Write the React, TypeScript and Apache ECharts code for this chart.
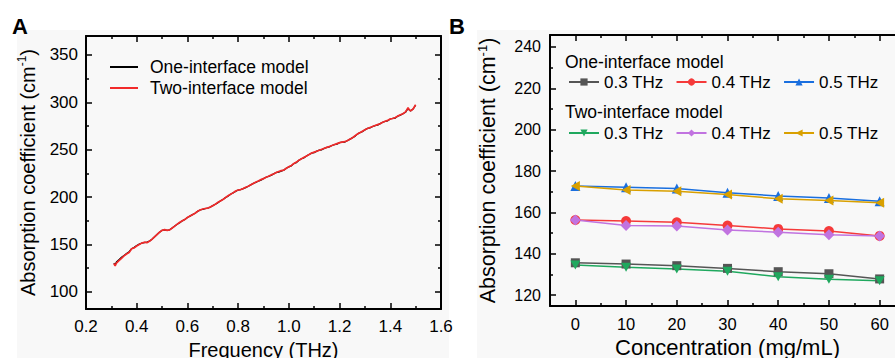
import React, { useEffect, useRef } from 'react';
import * as echarts from 'echarts';

const FONT = '"Liberation Sans", Arial, Helvetica, sans-serif';

// ---------- Panel A data ----------
const freqTHz = [
  0.310, 0.315, 0.320, 0.330, 0.340, 0.350, 0.360, 0.370, 0.380, 0.390,
  0.400, 0.410, 0.420, 0.430, 0.440, 0.450, 0.460, 0.470, 0.480, 0.490,
  0.500, 0.510, 0.520, 0.530, 0.540, 0.550, 0.560, 0.570, 0.580, 0.590,
  0.600, 0.610, 0.620, 0.630, 0.640, 0.650, 0.660, 0.670, 0.680, 0.690,
  0.700, 0.710, 0.720, 0.730, 0.740, 0.750, 0.760, 0.770, 0.780, 0.790,
  0.800, 0.810, 0.820, 0.830, 0.840, 0.850, 0.860, 0.870, 0.880, 0.890,
  0.900, 0.910, 0.920, 0.930, 0.940, 0.950, 0.960, 0.970, 0.980, 0.990,
  1.000, 1.010, 1.020, 1.030, 1.040, 1.050, 1.060, 1.070, 1.080, 1.090,
  1.100, 1.110, 1.120, 1.130, 1.140, 1.150, 1.160, 1.170, 1.180, 1.190,
  1.200, 1.210, 1.220, 1.230, 1.240, 1.250, 1.260, 1.270, 1.280, 1.290,
  1.300, 1.310, 1.320, 1.330, 1.340, 1.350, 1.360, 1.370, 1.380, 1.390,
  1.400, 1.410, 1.420, 1.430, 1.440, 1.450, 1.460, 1.465, 1.470, 1.475,
  1.480, 1.490, 1.500,
];

const alphaOneInterface = [
  130.5, 128.5, 131.5, 134.0, 136.5, 138.5, 140.5, 142.5, 145.5, 147.0,
  149.0, 150.5, 151.5, 152.0, 152.5, 153.5, 155.5, 158.0, 160.5, 163.0,
  165.0, 165.5, 165.0, 165.5, 167.5, 169.5, 171.5, 173.0, 175.0, 176.5,
  178.5, 180.0, 181.5, 183.0, 185.0, 186.5, 187.0, 188.0, 188.5, 189.5,
  191.0, 192.5, 194.0, 196.0, 197.5, 199.5, 201.0, 203.0, 204.5, 206.0,
  207.5, 208.0, 209.0, 210.0, 211.5, 213.0, 214.5, 215.5, 217.0, 218.0,
  219.5, 221.0, 222.0, 223.0, 224.5, 226.0, 226.5, 227.5, 228.5, 230.5,
  232.0, 233.0, 235.5, 236.5, 239.0, 240.5, 241.5, 243.5, 245.0, 246.5,
  247.0, 248.5, 249.5, 250.0, 251.5, 252.5, 253.0, 254.5, 255.5, 256.0,
  257.5, 258.0, 258.0, 259.5, 261.0, 262.5, 264.0, 266.5, 268.0, 269.0,
  271.0, 272.5, 273.0, 274.5, 275.5, 276.0, 277.5, 279.0, 280.0, 280.5,
  282.5, 283.0, 283.5, 285.5, 286.5, 288.0, 289.5, 291.5, 293.5, 292.0,
  291.0, 293.0, 297.0,
];

const alphaTwoInterface = [
  130.0, 127.5, 130.5, 133.0, 135.5, 138.0, 140.0, 141.5, 145.5, 146.5,
  148.5, 150.0, 151.5, 152.5, 152.0, 153.5, 155.5, 158.0, 160.5, 163.0,
  165.0, 165.8, 165.0, 165.5, 167.5, 169.5, 171.5, 173.5, 175.0, 176.5,
  178.5, 180.0, 181.5, 183.0, 185.0, 186.5, 187.5, 188.0, 188.5, 189.5,
  191.0, 192.5, 194.5, 196.0, 197.5, 199.5, 201.5, 203.0, 204.5, 206.5,
  207.5, 208.0, 209.0, 210.5, 211.5, 213.0, 214.5, 216.0, 217.0, 218.5,
  219.5, 221.0, 222.0, 223.5, 224.5, 226.0, 227.0, 228.0, 228.5, 230.5,
  232.0, 233.5, 235.5, 237.0, 239.0, 240.5, 242.0, 243.5, 245.0, 246.5,
  247.5, 248.5, 249.5, 250.5, 251.5, 252.5, 253.5, 254.5, 255.5, 256.5,
  257.5, 258.0, 258.5, 259.5, 261.0, 262.5, 264.5, 266.5, 268.0, 269.5,
  271.0, 272.5, 273.5, 274.5, 275.5, 276.5, 277.5, 279.0, 280.0, 281.0,
  282.5, 283.0, 284.0, 285.5, 287.0, 288.0, 290.0, 292.0, 294.5, 292.0,
  291.0, 293.0, 297.5,
];

const freqMajor = [0.2, 0.4, 0.6, 0.8, 1.0, 1.2, 1.4, 1.6];
const freqMinor = [0.3, 0.5, 0.7, 0.9, 1.1, 1.3, 1.5];
const alphaMajorA = [100, 150, 200, 250, 300, 350];
const alphaMinorA = [125, 175, 225, 275, 325];

// ---------- Panel B data ----------
const concentration = [0, 10, 20, 30, 40, 50, 60];
const one03 = [135.6, 135.0, 134.2, 132.9, 131.3, 130.3, 127.8];
const one04 = [156.3, 155.8, 155.2, 153.6, 152.0, 151.0, 148.6];
const one05 = [172.8, 172.2, 171.5, 169.5, 167.9, 167.0, 165.4];
const two03 = [134.5, 133.4, 132.6, 131.5, 128.9, 127.7, 126.9];
const two04 = [156.3, 153.7, 153.4, 151.5, 150.4, 149.2, 148.6];
const two05 = [172.8, 170.8, 170.2, 168.6, 166.6, 165.7, 164.7];

const concMajor = [0, 10, 20, 30, 40, 50, 60];
const concMinor = [5, 15, 25, 35, 45, 55];
const alphaMajorB = [120, 140, 160, 180, 200, 220, 240];
const alphaMinorB = [130, 150, 170, 190, 210, 230];

function buildAxes(
  dim: 'x' | 'y',
  gridIndex: number,
  min: number,
  max: number,
  majors: number[],
  minors: number[],
  labelSize: number,
  labelMargin: number,
  formatter: any,
  nameCfg: any
) {
  const pos = dim === 'x' ? ['bottom', 'top'] : ['left', 'right'];
  const base = { type: 'value', gridIndex, min, max, splitLine: { show: false } };
  const line = { show: true, onZero: false, lineStyle: { color: '#000', width: 2 } };
  const noLine = { show: false, onZero: false };
  const tick = (vals: number[], len: number) => ({
    show: true,
    inside: true,
    length: len,
    customValues: vals,
    lineStyle: { color: '#000', width: 1.5 },
  });
  return [
    {
      ...base,
      position: pos[0],
      axisLine: line,
      axisTick: tick(majors, 6),
      axisLabel: {
        show: true,
        customValues: majors,
        fontSize: labelSize,
        color: '#000',
        fontFamily: FONT,
        margin: labelMargin,
        formatter,
      },
      ...nameCfg,
    },
    { ...base, position: pos[0], axisLine: noLine, axisTick: tick(minors, 3), axisLabel: { show: false } },
    { ...base, position: pos[1], axisLine: line, axisTick: tick(majors, 6), axisLabel: { show: false } },
    { ...base, position: pos[1], axisLine: noLine, axisTick: tick(minors, 3), axisLabel: { show: false } },
  ];
}

function yName(size: number, gap: number) {
  return {
    name: '{a|Absorption coefficient (cm}{s|-1}{a|)}',
    nameLocation: 'middle',
    nameGap: gap,
    nameTextStyle: {
      color: '#000',
      fontFamily: FONT,
      rich: {
        a: { fontSize: size, lineHeight: size + 4, fontFamily: FONT, color: '#000' },
        s: { fontSize: Math.round(size * 0.6), lineHeight: 14, verticalAlign: 'top', fontFamily: FONT, color: '#000' },
      },
    },
  };
}

const bSeriesDefs = [
  { name: 'One 0.3 THz', data: one03, color: '#555555', symbol: 'rect', size: 9 },
  { name: 'One 0.4 THz', data: one04, color: '#F53A3A', symbol: 'circle', size: 10 },
  { name: 'One 0.5 THz', data: one05, color: '#1A6FDF', symbol: 'triangle', size: 10 },
  { name: 'Two 0.3 THz', data: two03, color: '#1FA85E', symbol: 'path://M0,0L10,0L5,9Z', size: 10 },
  { name: 'Two 0.4 THz', data: two04, color: '#C173E0', symbol: 'diamond', size: 11 },
  { name: 'Two 0.5 THz', data: two05, color: '#D9A000', symbol: 'path://M0,5L9,0L9,10Z', size: 10 },
];

export default function App() {
  const ref = useRef<HTMLDivElement>(null);
  useEffect(() => {
    if (!ref.current) return;
    const chart = echarts.init(ref.current, undefined, { renderer: 'svg' });

    const xAxes = [
      ...buildAxes('x', 0, 0.2, 1.6, freqMajor, freqMinor, 17, 9, (v: number) => v.toFixed(1), {
        name: 'Frequency (THz)',
        nameLocation: 'middle',
        nameGap: 26,
        nameTextStyle: { fontSize: 20, color: '#000', fontFamily: FONT },
      }),
      ...buildAxes('x', 1, -5, 65, concMajor, concMinor, 16.5, 9, (v: number) => String(v), {
        name: 'Concentration (mg/mL)',
        nameLocation: 'middle',
        nameGap: 27,
        nameTextStyle: { fontSize: 22, color: '#000', fontFamily: FONT },
      }),
    ];
    const yAxes = [
      ...buildAxes('y', 0, 82, 370, alphaMajorA, alphaMinorA, 17, 8, (v: number) => String(v), yName(20, 46)),
      ...buildAxes('y', 1, 114.7, 245.8, alphaMajorB, alphaMinorB, 16, 9, (v: number) => String(v), yName(21.5, 49)),
    ];

    const series: any[] = [
      {
        type: 'line',
        name: 'One-interface model',
        xAxisIndex: 0,
        yAxisIndex: 0,
        data: freqTHz.map((f, i) => [f, alphaOneInterface[i]]),
        symbol: 'none',
        showSymbol: false,
        lineStyle: { color: '#000', width: 1.3 },
        itemStyle: { color: '#000' },
        color: '#000',
      },
      {
        type: 'line',
        name: 'Two-interface model',
        xAxisIndex: 0,
        yAxisIndex: 0,
        data: freqTHz.map((f, i) => [f, alphaTwoInterface[i]]),
        symbol: 'none',
        showSymbol: false,
        lineStyle: { color: '#F22A2A', width: 1.7 },
        itemStyle: { color: '#F22A2A' },
        color: '#F22A2A',
      },
      ...bSeriesDefs.map((d) => ({
        type: 'line',
        name: d.name,
        xAxisIndex: 4,
        yAxisIndex: 4,
        data: concentration.map((c, i) => [c, d.data[i]]),
        symbol: d.symbol,
        symbolSize: d.size,
        symbolKeepAspect: true,
        showSymbol: true,
        lineStyle: { color: d.color, width: 1.5 },
        itemStyle: { color: d.color },
        color: d.color,
      })),
    ];

    const legendText = { fontSize: 17.5, lineHeight: 20, color: '#000', fontFamily: FONT };
    const stripPrefix = (n: string) => n.replace(/^(One|Two) /, '');

    chart.setOption({
      animation: false,
      backgroundColor: '#ffffff',
      grid: [
        { left: 86, top: 36, width: 355, height: 273, outerBoundsMode: 'none', containLabel: false },
        { left: 550, top: 35, width: 355, height: 271, outerBoundsMode: 'none', containLabel: false },
      ],
      xAxis: xAxes,
      yAxis: yAxes,
      legend: [
        {
          data: [
            { name: 'One-interface model', icon: 'rect' },
            { name: 'Two-interface model', icon: 'rect' },
          ],
          orient: 'vertical',
          left: 110,
          top: 57,
          padding: 0,
          itemWidth: 28,
          itemHeight: 2,
          itemGap: 1,
          selectedMode: false,
          textStyle: { ...legendText, padding: [0, 0, 0, 7] },
        },
        {
          data: ['One 0.3 THz', 'One 0.4 THz', 'One 0.5 THz'],
          orient: 'horizontal',
          left: 568,
          top: 72,
          padding: 0,
          itemWidth: 30,
          itemHeight: 9,
          itemGap: 12,
          selectedMode: false,
          formatter: stripPrefix,
          textStyle: { ...legendText, fontSize: 17 },
        },
        {
          data: ['Two 0.3 THz', 'Two 0.4 THz', 'Two 0.5 THz'],
          orient: 'horizontal',
          left: 568,
          top: 123,
          padding: 0,
          itemWidth: 30,
          itemHeight: 9,
          itemGap: 12,
          selectedMode: false,
          formatter: stripPrefix,
          textStyle: { ...legendText, fontSize: 17 },
        },
      ],
      graphic: [
        { type: 'rect', silent: true, z: -100, shape: { x: 17, y: 30, width: 432, height: 328 }, style: { fill: '#f8f8f8' } },
        { type: 'rect', silent: true, z: -100, shape: { x: 477, y: 30, width: 443, height: 328 }, style: { fill: '#f8f8f8' } },
        {
          type: 'text', x: 12, y: 15, z: 100,
          style: { text: 'A', fontSize: 22, fontWeight: 'bold', fontFamily: FONT, fill: '#000', align: 'left', verticalAlign: 'top' },
        },
        {
          type: 'text', x: 449, y: 15, z: 100,
          style: { text: 'B', fontSize: 22, fontWeight: 'bold', fontFamily: FONT, fill: '#000', align: 'left', verticalAlign: 'top' },
        },
        {
          type: 'text', x: 565, y: 62, z: 100,
          style: { text: 'One-interface model', fontSize: 17.5, fontFamily: FONT, fill: '#000', align: 'left', verticalAlign: 'middle' },
        },
        {
          type: 'text', x: 565, y: 112, z: 100,
          style: { text: 'Two-interface model', fontSize: 17.5, fontFamily: FONT, fill: '#000', align: 'left', verticalAlign: 'middle' },
        },
      ],
      series,
    });
    return () => chart.dispose();
  }, []);

  return (
    <div style={{ position: 'fixed', left: 0, top: 0, width: 895, height: 358, overflow: 'hidden', background: '#fff' }}>
      <div ref={ref} style={{ width: 920, height: 358 }} />
    </div>
  );
}
